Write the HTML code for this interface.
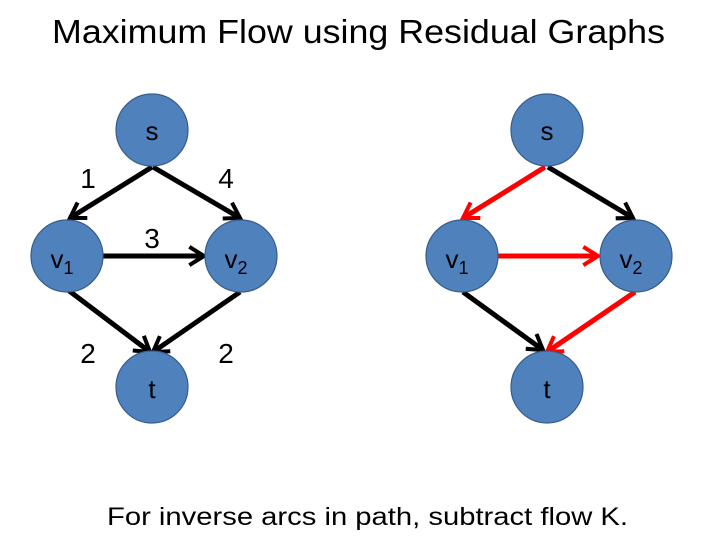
<!DOCTYPE html>
<html><head><style>
html,body{margin:0;padding:0;background:#fff;}
svg{display:block;}
text{font-family:"Liberation Sans",sans-serif;}
</style></head><body>
<svg width="720" height="540" viewBox="0 0 720 540">
<defs>
<marker id="ab" viewBox="0 0 12 12" refX="10" refY="6" markerWidth="4.4" markerHeight="4.4" orient="auto" markerUnits="strokeWidth">
<path d="M2,1 L10,6 L2,11" fill="none" stroke="#000" stroke-width="2.2"/></marker>
<marker id="ar" viewBox="0 0 12 12" refX="10" refY="6" markerWidth="4.4" markerHeight="4.4" orient="auto" markerUnits="strokeWidth">
<path d="M2,1 L10,6 L2,11" fill="none" stroke="#f00" stroke-width="2.2"/></marker>
</defs>
<text x="52" y="43" font-size="33" textLength="613" lengthAdjust="spacingAndGlyphs" fill="#000">Maximum Flow using Residual Graphs</text>
<g stroke-width="5" fill="none">
<line x1="152" y1="167" x2="70" y2="218" stroke="#000" marker-end="url(#ab)"/>
<line x1="153" y1="167" x2="240" y2="218" stroke="#000" marker-end="url(#ab)"/>
<line x1="103" y1="256" x2="204" y2="256" stroke="#000" marker-end="url(#ab)"/>
<line x1="68" y1="290" x2="150" y2="352" stroke="#000" marker-end="url(#ab)"/>
<line x1="240" y1="292" x2="153" y2="352" stroke="#000" marker-end="url(#ab)"/>
<line x1="545" y1="167" x2="463" y2="218" stroke="#f00" marker-end="url(#ar)"/>
<line x1="548" y1="167" x2="633" y2="218" stroke="#000" marker-end="url(#ab)"/>
<line x1="498" y1="256" x2="598" y2="256" stroke="#f00" marker-end="url(#ar)"/>
<line x1="463" y1="292" x2="543" y2="350" stroke="#000" marker-end="url(#ab)"/>
<line x1="635" y1="292" x2="547" y2="352" stroke="#f00" marker-end="url(#ar)"/>
</g>
<g fill="#4f81bd" stroke="#385d8a" stroke-width="1.2">
<circle cx="152" cy="130" r="36"/><circle cx="67" cy="256" r="36"/><circle cx="241" cy="256" r="36"/><circle cx="152" cy="387" r="36"/>
<circle cx="547" cy="130" r="36"/><circle cx="462" cy="256" r="36"/><circle cx="636" cy="256" r="36"/><circle cx="547" cy="387" r="36"/>
</g>
<g font-size="26" fill="#000" text-anchor="middle">
<text x="152" y="140">s</text><text x="547" y="140">s</text>
<text x="152" y="398">t</text><text x="547" y="398">t</text>
<text x="62" y="268">v<tspan font-size="18" dy="6">1</tspan></text>
<text x="236" y="268">v<tspan font-size="18" dy="6">2</tspan></text>
<text x="457" y="268">v<tspan font-size="18" dy="6">1</tspan></text>
<text x="631" y="268">v<tspan font-size="18" dy="6">2</tspan></text>
</g>
<g font-size="28" fill="#000" text-anchor="middle">
<text x="88" y="188">1</text><text x="226" y="188">4</text><text x="152" y="248">3</text>
<text x="88" y="363">2</text><text x="226" y="363">2</text>
</g>
<text x="107" y="525" font-size="25" textLength="521" lengthAdjust="spacingAndGlyphs" fill="#000">For inverse arcs in path, subtract flow K.</text>
</svg>
</body></html>
